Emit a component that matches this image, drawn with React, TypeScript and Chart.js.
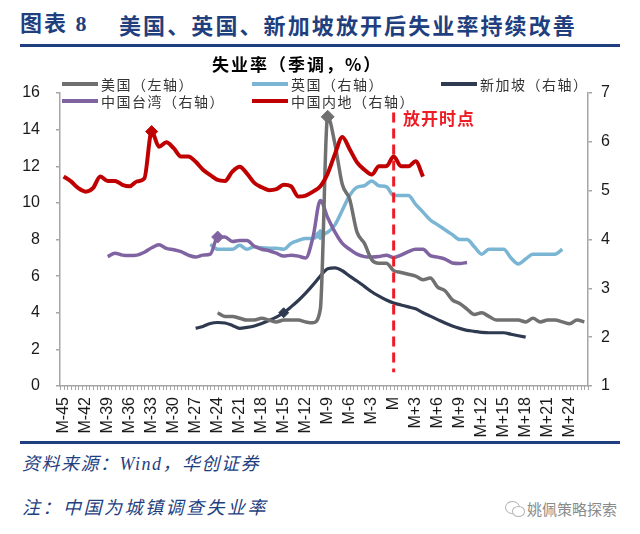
import React, { useEffect, useRef } from 'react';
import { Chart, registerables } from 'chart.js';

Chart.register(...registerables);

// ---- data ----
const CATEGORIES = [
  'M-45','M-44','M-43','M-42','M-41','M-40','M-39','M-38','M-37','M-36','M-35','M-34',
  'M-33','M-32','M-31','M-30','M-29','M-28','M-27','M-26','M-25','M-24','M-23','M-22',
  'M-21','M-20','M-19','M-18','M-17','M-16','M-15','M-14','M-13','M-12','M-11','M-10',
  'M-9','M-8','M-7','M-6','M-5','M-4','M-3','M-2','M-1','M','M+1','M+2',
  'M+3','M+4','M+5','M+6','M+7','M+8','M+9','M+10','M+11','M+12','M+13','M+14',
  'M+15','M+16','M+17','M+18','M+19','M+20','M+21','M+22','M+23','M+24','M+25','M+26',
];

const TICK_LABELS = [
  'M-45','M-42','M-39','M-36','M-33','M-30','M-27','M-24','M-21','M-18','M-15','M-12',
  'M-9','M-6','M-3','M','M+3','M+6','M+9','M+12','M+15','M+18','M+21','M+24',
];

const LEFT_TICKS = { min: 0, max: 16, step: 2 };
const RIGHT_TICKS = { min: 1, max: 7, step: 1 };

// 美国（左轴）
const US_START = 'M-24';
const US_MARK = 'M-9';
const US = [4.0, 3.8, 3.8, 3.7, 3.6, 3.6, 3.7, 3.6, 3.5, 3.6, 3.6, 3.6, 3.5, 3.45, 4.2, 14.7, 13.2, 11.0, 10.2, 8.4,
  7.8, 6.9, 6.7, 6.7, 6.3, 6.2, 6.1, 6.0, 5.8, 5.9, 5.4, 5.2, 4.7, 4.5, 4.2, 3.9, 4.0, 3.8, 3.6, 3.6,
  3.6, 3.6, 3.5, 3.7, 3.5, 3.6, 3.6, 3.5, 3.4, 3.6, 3.5];

// 英国（右轴）
const UK_START = 'M-25';
const UK_MARK = 'M-10';
const UK = [3.9, 3.8, 3.8, 3.8, 3.88, 3.8, 3.85, 3.83, 3.82, 3.82, 3.8, 3.92, 3.98, 4.02, 4.02, 4.1, 4.15, 4.3, 4.6, 4.9,
  5.07, 5.1, 5.2, 5.1, 5.08, 4.9, 4.9, 4.9, 4.72, 4.56, 4.4, 4.3, 4.2, 4.1, 4.0, 4.0, 3.85, 3.7, 3.8, 3.8,
  3.8, 3.62, 3.5, 3.6, 3.7, 3.7, 3.7, 3.7, 3.8];

// 新加坡（右轴）
const SG_START = 'M-27';
const SG_MARK = 'M-15';
const SG = [2.18, 2.22, 2.28, 2.3, 2.29, 2.24, 2.18, 2.2, 2.23, 2.28, 2.34, 2.41, 2.5, 2.62, 2.75, 2.9, 3.07, 3.25, 3.4, 3.42,
  3.36, 3.25, 3.15, 3.04, 2.93, 2.84, 2.76, 2.7, 2.66, 2.62, 2.58, 2.5, 2.43, 2.36, 2.29, 2.23, 2.18, 2.14, 2.12, 2.1,
  2.09, 2.09, 2.09, 2.06, 2.03, 2.0];

// 中国台湾（右轴）
const TW_START = 'M-39';
const TW_MARK = 'M-24';
const TW = [3.65, 3.72, 3.68, 3.67, 3.68, 3.74, 3.83, 3.89, 3.82, 3.79, 3.75, 3.68, 3.64, 3.68, 3.7, 4.05, 4.05, 3.96, 3.98, 3.98,
  3.86, 3.8, 3.77, 3.72, 3.66, 3.68, 3.66, 3.62, 4.05, 4.8, 4.45, 4.15, 3.92, 3.8, 3.7, 3.65, 3.64, 3.65, 3.68, 3.63,
  3.68, 3.75, 3.8, 3.8, 3.67, 3.64, 3.6, 3.52, 3.51, 3.53];

// 中国内地（右轴）
const CN_START = 'M-45';
const CN_MARK = 'M-33';
const CN = [5.29, 5.19, 5.05, 4.98, 5.05, 5.29, 5.2, 5.2, 5.12, 5.09, 5.19, 5.25, 6.21, 5.9, 5.99, 5.87, 5.7, 5.7, 5.59, 5.43,
  5.32, 5.22, 5.2, 5.39, 5.49, 5.35, 5.16, 5.07, 5.01, 5.03, 5.12, 5.09, 4.88, 4.9, 4.98, 5.09, 5.35, 5.75, 6.1, 5.85,
  5.58, 5.43, 5.33, 5.5, 5.5, 5.7, 5.5, 5.5, 5.6, 5.29];

// 放开时点 marker line (right-axis units for its vertical extent)
const REOPEN = 'M';
const REOPEN_TOP = 6.6;
const REOPEN_BOTTOM = 1.28;

const BLUE = '#1f3f7f';
const COLORS = {
  us: '#707070',
  uk: '#7ab6d4',
  sg: '#2f3a50',
  tw: '#8064a2',
  cn: '#c00000',
};

function pad(start: string, values: number[]) {
  const s = CATEGORIES.indexOf(start);
  return CATEGORIES.map((_, i) => (i >= s && i - s < values.length ? values[i - s] : null));
}

function markRadius(mark: string, r: number) {
  return (ctx: any) => (CATEGORIES[ctx.dataIndex] === mark ? r : 0);
}

const reopenPlugin = {
  id: 'reopenLine',
  afterDatasetsDraw(chart: any) {
    const { ctx, scales } = chart;
    const x = scales.x.getPixelForValue(CATEGORIES.indexOf(REOPEN));
    const y1 = scales.yR.getPixelForValue(REOPEN_TOP);
    const y2 = scales.yR.getPixelForValue(REOPEN_BOTTOM);
    ctx.save();
    ctx.strokeStyle = '#ee1c24';
    ctx.lineWidth = 3;
    ctx.setLineDash([10, 6]);
    ctx.beginPath();
    ctx.moveTo(x, y1);
    ctx.lineTo(x, y2);
    ctx.stroke();
    ctx.restore();
  },
};

const xTicksPlugin = {
  id: 'xMinorTicks',
  afterDraw(chart: any) {
    const { ctx, scales } = chart;
    const xs = scales.x;
    const n = CATEGORIES.length * 2;
    const step = (xs.right - xs.left) / n;
    ctx.save();
    ctx.strokeStyle = '#a6a6a6';
    ctx.lineWidth = 1;
    ctx.beginPath();
    for (let k = 0; k <= n; k++) {
      const x = Math.round(xs.left + k * step) + 0.5;
      ctx.moveTo(x, xs.top);
      ctx.lineTo(x, xs.top + 4);
    }
    ctx.stroke();
    ctx.restore();
  },
};

function ChartCanvas() {
  const ref = useRef<HTMLCanvasElement | null>(null);
  useEffect(() => {
    if (!ref.current) return;
    Chart.defaults.font.family = "'Liberation Sans', Arial, sans-serif";
    const line = (label: string, data: any[], color: string, axis: string, mark: string, r: number, w: number) => ({
      label,
      data,
      yAxisID: axis,
      borderColor: color,
      backgroundColor: color,
      borderWidth: w,
      pointStyle: 'rectRot',
      pointRadius: markRadius(mark, r),
      pointHoverRadius: markRadius(mark, r),
      pointBackgroundColor: color,
      pointBorderColor: color,
      pointBorderWidth: 1,
      cubicInterpolationMode: 'monotone',
      spanGaps: false,
      fill: false,
    });
    const chart = new Chart(ref.current, {
      type: 'line',
      data: {
        labels: CATEGORIES,
        datasets: [
          line('中国内地（右轴）', pad(CN_START, CN), COLORS.cn, 'yR', CN_MARK, 6, 4),
          line('美国（左轴）', pad(US_START, US), COLORS.us, 'yL', US_MARK, 6.5, 3.5),
          line('中国台湾（右轴）', pad(TW_START, TW), COLORS.tw, 'yR', TW_MARK, 6, 3.5),
          line('英国（右轴）', pad(UK_START, UK), COLORS.uk, 'yR', UK_MARK, 5.5, 3.5),
          line('新加坡（右轴）', pad(SG_START, SG), COLORS.sg, 'yR', SG_MARK, 5, 3.2),
        ] as any,
      },
      options: {
        animation: false,
        responsive: false,
        devicePixelRatio: 1,
        layout: { padding: { top: 93, left: 0, right: 0, bottom: 0 } },
        plugins: { legend: { display: false }, tooltip: { enabled: false }, title: { display: false } },
        scales: {
          x: {
            type: 'category',
            offset: true,
            grid: { display: false, drawTicks: false },
            border: { display: true, color: '#a6a6a6', width: 1.5 },
            ticks: {
              autoSkip: false,
              minRotation: 90,
              maxRotation: 90,
              padding: 11,
              color: '#1a1a1a',
              font: { size: 16 },
              callback: (_v: any, i: number) => (TICK_LABELS.includes(CATEGORIES[i]) ? CATEGORIES[i] : ''),
            },
            afterFit: (s: any) => { s.height = 64; },
          },
          yL: {
            type: 'linear',
            position: 'left',
            min: LEFT_TICKS.min,
            max: LEFT_TICKS.max,
            grid: { drawOnChartArea: false, drawTicks: true, tickLength: 4, color: '#a6a6a6', lineWidth: 1.5 },
            border: { display: true, color: '#a6a6a6', width: 1.5 },
            ticks: { stepSize: LEFT_TICKS.step, padding: 16, color: '#1a1a1a', font: { size: 16 } },
            afterFit: (s: any) => { s.width = 60; },
          },
          yR: {
            type: 'linear',
            position: 'right',
            min: RIGHT_TICKS.min,
            max: RIGHT_TICKS.max,
            grid: { drawOnChartArea: false, drawTicks: true, tickLength: 4, color: '#a6a6a6', lineWidth: 1.5 },
            border: { display: true, color: '#a6a6a6', width: 1.5 },
            ticks: { stepSize: RIGHT_TICKS.step, padding: 9, color: '#1a1a1a', font: { size: 16 } },
            afterFit: (s: any) => { s.width = 52; },
          },
        },
      } as any,
      plugins: [reopenPlugin, xTicksPlugin],
    });
    return () => chart.destroy();
  }, []);
  return (
    <canvas
      ref={ref}
      width={640}
      height={450}
      style={{ position: 'absolute', left: 0, top: 0, width: 640, height: 450 }}
    />
  );
}

const CJK = "'Noto Sans CJK SC', 'Noto Sans', sans-serif";
const SERIF_CJK = "'Liberation Serif', 'Noto Sans CJK SC', serif";

function LegendItem({ x, y, color, text }: { x: number; y: number; color: string; text: string }) {
  return (
    <>
      <div style={{ position: 'absolute', left: x, top: y - 2, width: 36, height: 4, background: color }} />
      <div
        style={{
          position: 'absolute', left: x + 39, top: y - 10, height: 20, lineHeight: '20px',
          fontFamily: CJK, fontSize: 14, letterSpacing: 1.5, color: '#333', whiteSpace: 'nowrap',
        }}
      >
        {text}
      </div>
    </>
  );
}

export default function App() {
  return (
    <div style={{ position: 'absolute', left: 0, top: 0, width: 640, height: 534, background: '#fff', overflow: 'hidden' }}>
      <div style={{ position: 'absolute', left: 20, top: 11, lineHeight: '26px', fontFamily: SERIF_CJK, fontWeight: 700, fontSize: 22, color: BLUE, whiteSpace: 'nowrap', letterSpacing: 2 }}>
        图表 8
      </div>
      <div style={{ position: 'absolute', left: 119, top: 11, lineHeight: '26px', fontFamily: CJK, fontWeight: 700, fontSize: 22, color: BLUE, whiteSpace: 'nowrap', letterSpacing: 2.1 }}>
        美国、英国、新加坡放开后失业率持续改善
      </div>
      <div style={{ position: 'absolute', left: 20, top: 44, width: 600, height: 3, background: BLUE }} />

      <ChartCanvas />

      <div style={{ position: 'absolute', left: 212, top: 54, lineHeight: '20px', fontFamily: CJK, fontWeight: 700, fontSize: 17, color: '#000', whiteSpace: 'nowrap', letterSpacing: 2 }}>
        失业率（季调，%）
      </div>
      <LegendItem x={62} y={84} color={COLORS.us} text="美国（左轴）" />
      <LegendItem x={252} y={84} color={COLORS.uk} text="英国（右轴）" />
      <LegendItem x={441} y={84} color={COLORS.sg} text="新加坡（右轴）" />
      <LegendItem x={62} y={101} color={COLORS.tw} text="中国台湾（右轴）" />
      <LegendItem x={252} y={101} color={COLORS.cn} text="中国内地（右轴）" />

      <div style={{ position: 'absolute', left: 403, top: 108, lineHeight: '20px', fontFamily: CJK, fontWeight: 700, fontSize: 17, color: '#ee1c24', whiteSpace: 'nowrap', letterSpacing: 1 }}>
        放开时点
      </div>

      <div style={{ position: 'absolute', left: 20, top: 441, width: 600, height: 3, background: BLUE }} />
      <div style={{ position: 'absolute', left: 22, top: 452, lineHeight: '24px', fontFamily: SERIF_CJK, fontStyle: 'italic', fontSize: 18, color: BLUE, whiteSpace: 'nowrap', letterSpacing: 1.5 }}>
        资料来源：Wind，华创证券
      </div>
      <div style={{ position: 'absolute', left: 22, top: 496, lineHeight: '24px', fontFamily: SERIF_CJK, fontStyle: 'italic', fontSize: 18, color: BLUE, whiteSpace: 'nowrap', letterSpacing: 2.5 }}>
        注：中国为城镇调查失业率
      </div>
      <div style={{ position: 'absolute', left: 505, top: 501, width: 13, height: 11, border: '1.5px solid #b5b5b5', borderRadius: '50%' }} />
      <div style={{ position: 'absolute', left: 512, top: 506, width: 11, height: 9, border: '1.5px solid #b5b5b5', borderRadius: '50%', background: '#fff' }} />
      <div style={{ position: 'absolute', left: 527, top: 498, lineHeight: '22px', fontFamily: CJK, fontSize: 15, color: '#8a8a8a', whiteSpace: 'nowrap' }}>
        姚佩策略探索
      </div>
    </div>
  );
}
